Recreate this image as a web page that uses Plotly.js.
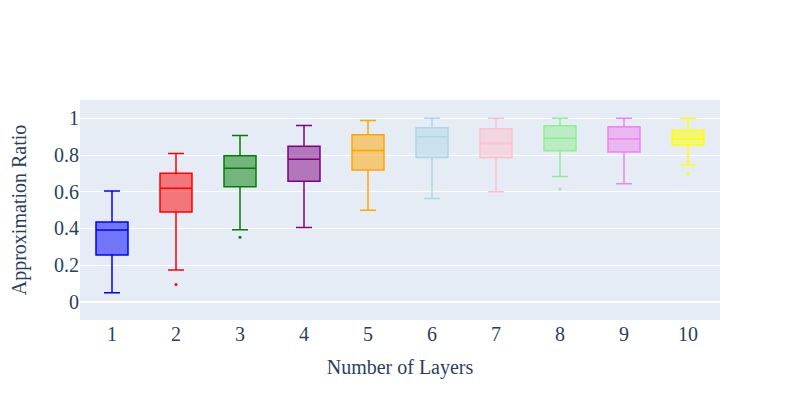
<!DOCTYPE html>
<html>
<head>
<meta charset="utf-8">
<script src="https://cdn.plot.ly/plotly-3.0.1.min.js"></script>
<style>html,body{margin:0;padding:0;}#chart{width:800px;height:400px;}</style>
</head>
<body>
<div id="chart"></div>
<script>
const layers = [1, 2, 3, 4, 5, 6, 7, 8, 9, 10];
const lowerFences = [0.049, 0.173, 0.392, 0.405, 0.498, 0.563, 0.599, 0.683, 0.643, 0.745];
const q1s =         [0.254, 0.489, 0.627, 0.657, 0.718, 0.787, 0.785, 0.823, 0.816, 0.854];
const medians =     [0.391, 0.618, 0.728, 0.777, 0.825, 0.899, 0.863, 0.892, 0.887, 0.887];
const q3s =         [0.434, 0.701, 0.796, 0.848, 0.910, 0.948, 0.943, 0.959, 0.954, 0.934];
const upperFences = [0.603, 0.808, 0.906, 0.961, 0.988, 1.0, 1.0, 1.0, 1.0, 1.0];
const colors = ['blue', 'red', 'green', 'purple', 'orange', 'lightblue', 'pink', 'lightgreen', 'violet', 'yellow'];
const outlierLayers = [2, 3, 8, 10];
const outlierValues = [0.094, 0.352, 0.614, 0.699];

const traces = layers.map((l, i) => ({
  type: 'box',
  name: String(l),
  x: [l],
  q1: [q1s[i]],
  median: [medians[i]],
  q3: [q3s[i]],
  lowerfence: [lowerFences[i]],
  upperfence: [upperFences[i]],
  width: 0.5,
  marker: {color: colors[i]},
  line: {color: colors[i], width: 1.5},
  showlegend: false
}));

outlierLayers.forEach((l, k) => {
  const ci = layers.indexOf(l);
  traces.push({
    type: 'scatter',
    mode: 'markers',
    x: [l],
    y: [outlierValues[k]],
    marker: {color: colors[ci], size: 3},
    showlegend: false,
    hoverinfo: 'y'
  });
});

const fontFamily = 'Times New Roman, Liberation Serif, serif';

const layout = {
  width: 800,
  height: 400,
  margin: {l: 80, r: 80, t: 100, b: 80},
  font: {family: fontFamily, size: 20, color: '#2a3f5f'},
  paper_bgcolor: 'white',
  plot_bgcolor: '#E5ECF6',
  showlegend: false,
  xaxis: {
    title: {text: 'Number of Layers', standoff: 15, font: {family: fontFamily, size: 20, color: '#2a3f5f'}},
    range: [0.5, 10.5],
    tickmode: 'array',
    tickvals: layers,
    ticktext: layers.map(String),
    showgrid: false,
    zeroline: false
  },
  yaxis: {
    title: {text: 'Approximation Ratio', standoff: 22, font: {family: fontFamily, size: 20, color: '#2a3f5f'}},
    range: [-0.1, 1.1],
    dtick: 0.2,
    tick0: 0,
    gridcolor: 'white',
    zerolinecolor: 'white',
    zerolinewidth: 2
  }
};

Plotly.newPlot('chart', traces, layout, {displayModeBar: false, staticPlot: true});
</script>
</body>
</html>
